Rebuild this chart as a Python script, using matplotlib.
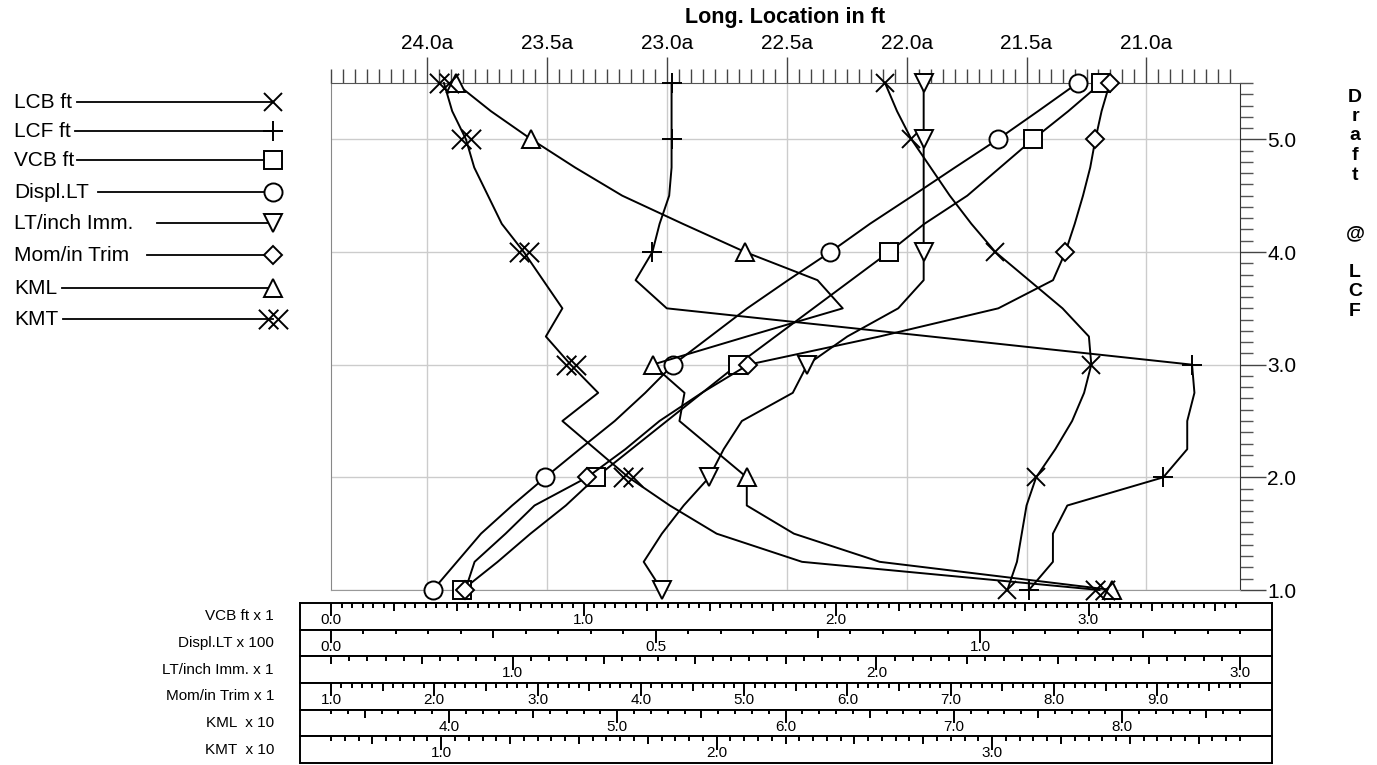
import numpy as np
import matplotlib
matplotlib.use('Agg')
import matplotlib.pyplot as plt
from matplotlib.path import Path

plt.rcParams['font.family'] = ['Liberation Sans', 'DejaVu Sans']

# draft @ LCF (ft); curve stations every 0.25 ft, symbols on whole feet and at 5.5
draft = [1.0, 1.25, 1.5, 1.75, 2.0, 2.25, 2.5, 2.75, 3.0, 3.25, 3.5, 3.75,
         4.0, 4.25, 4.5, 4.75, 5.0, 5.25, 5.5]
mark_at = [0, 4, 8, 12, 16, 18]

lcb = [21.58, 21.54, 21.52, 21.50, 21.46, 21.38, 21.31, 21.26, 21.23, 21.24,
       21.35, 21.49, 21.63, 21.73, 21.82, 21.90, 21.98, 22.04, 22.09]
lcf = [21.49, 21.39, 21.39, 21.33, 20.93, 20.83, 20.83, 20.80, 20.81, 21.90,
       23.00, 23.13, 23.06, 23.03, 22.99, 22.98, 22.98, 22.98, 22.98]
vcb = [0.52, 0.66, 0.79, 0.93, 1.05, 1.19, 1.33, 1.47, 1.61, 1.76,
       1.91, 2.06, 2.21, 2.35, 2.52, 2.65, 2.78, 2.92, 3.05]
displ = [0.157, 0.194, 0.231, 0.279, 0.330, 0.383, 0.437, 0.484, 0.527, 0.584,
         0.641, 0.704, 0.769, 0.830, 0.896, 0.961, 1.027, 1.089, 1.150]
lt_inch = [1.41, 1.36, 1.41, 1.47, 1.54, 1.58, 1.63, 1.77, 1.81, 1.92,
           2.06, 2.13, 2.13, 2.13, 2.13, 2.13, 2.13, 2.13, 2.13]
mom_trim = [2.30, 2.39, 2.69, 2.97, 3.48, 3.85, 4.18, 4.59, 5.04, 6.31,
            7.46, 7.99, 8.11, 8.20, 8.28, 8.35, 8.40, 8.46, 8.54]
kml = [7.94, 6.56, 6.05, 5.77, 5.77, 5.57, 5.37, 5.40, 5.21, 5.77,
       6.34, 6.19, 5.76, 5.39, 5.03, 4.75, 4.49, 4.25, 4.04]
kmt = [3.39, 2.31, 2.00, 1.83, 1.68, 1.56, 1.44, 1.57, 1.47, 1.38,
       1.44, 1.37, 1.30, 1.22, 1.17, 1.12, 1.09, 1.04, 1.01]

legend_names = ['LCB ft', 'LCF ft', 'VCB ft', 'Displ.LT', 'LT/inch Imm.',
                'Mom/in Trim', 'KML', 'KMT']

loc_ticks = [24.0, 23.5, 23.0, 22.5, 22.0, 21.5, 21.0]
draft_ticks = [1.0, 2.0, 3.0, 4.0, 5.0]

# auxiliary scales under the plot: range across the plot width and tick steps
scale_names = ['VCB ft x 1', 'Displ.LT x 100', 'LT/inch Imm. x 1',
               'Mom/in Trim x 1', 'KML  x 10', 'KMT  x 10']
scale_lo = [0.0, 0.0, 0.5, 1.0, 3.3, 0.6]
scale_hi = [3.6, 1.4, 3.0, 9.8, 8.7, 3.9]
label_step = [1.0, 0.5, 1.0, 1.0, 1.0, 1.0]
mid_step = [0.25, 0.25, 0.25, 0.5, 0.5, 0.25]
minor_step = [1 / 24, 0.05, 0.05, 0.1, 0.1, 0.05]

X_LEFT, X_RIGHT = 24.4, 20.61

W, H = 1377, 765
fig = plt.figure(figsize=(W / 100, H / 100), dpi=100)


def to_loc(vals, k):
    # map a quantity read on bottom scale k onto the long. location axis
    v = np.asarray(vals, dtype=float)
    return X_LEFT + (v - scale_lo[k]) / (scale_hi[k] - scale_lo[k]) * (X_RIGHT - X_LEFT)


kmt_marker = Path([(-1.5, -1), (0.5, 1), (-1.5, 1), (0.5, -1),
                   (-0.5, -1), (1.5, 1), (-0.5, 1), (1.5, -1)],
                  [Path.MOVETO, Path.LINETO] * 4)

series = [(lcb, None, 'x', 13.5), (lcf, None, '+', 14.5), (vcb, 0, 's', 13),
          (displ, 1, 'o', 13), (lt_inch, 2, 'v', 13.5), (mom_trim, 3, 'D', 9.5),
          (kml, 4, '^', 13.5), (kmt, 5, kmt_marker, 21)]

# legend on the left
lax = fig.add_axes([0, 0, 1, 1])
lax.set_xlim(0, W)
lax.set_ylim(H, 0)
lax.axis('off')
leg_y = [102, 131, 160, 192, 223, 255, 288, 319]
leg_x0 = [77, 75, 77, 98, 157, 147, 62, 63]
for name, y, x0, (_, _, mk, ms) in zip(legend_names, leg_y, leg_x0, series):
    lax.text(14, y, name, va='center', ha='left', fontsize=15)
    lax.plot([x0, 273], [y, y], color='black', lw=1.3)
    lax.plot([273], [y], linestyle='none', marker=mk, ms=ms, mfc='white',
             mec='black', mew=1.4)

# main plot
ax = fig.add_axes([331 / W, 1 - 590 / H, 909 / W, 507 / H])
ax.set_xlim(X_LEFT, X_RIGHT)
ax.set_ylim(1.0, 5.5)
ax.set_axisbelow(True)

for vals, k, mk, ms in series:
    x = vals if k is None else to_loc(vals, k)
    ax.plot(x, draft, color='black', lw=1.4, marker=mk, ms=ms, mfc='white',
            mec='black', mew=1.4, markevery=mark_at, clip_on=False, zorder=3)

ax.xaxis.tick_top()
ax.set_xticks(loc_ticks)
ax.set_xticklabels([f'{t:.1f}a' for t in loc_ticks], fontsize=15)
ax.set_xticks(np.arange(20.65, 24.41, 0.05), minor=True)
ax.tick_params(axis='x', which='major', direction='out', length=18.5, width=1,
               color='#444444', pad=3)
ax.tick_params(axis='x', which='minor', direction='out', length=10, width=1,
               color='#444444')

ax.yaxis.tick_right()
ax.set_yticks(draft_ticks)
ax.set_yticklabels([f'{t:.1f}' for t in draft_ticks], fontsize=15)
ax.set_yticks(np.arange(1.0, 5.51, 0.1), minor=True)
ax.tick_params(axis='y', which='major', direction='out', length=18.5, width=1,
               color='#444444', pad=1)
ax.tick_params(axis='y', which='minor', direction='out', length=9.5, width=1,
               color='#555555')

ax.grid(True, which='major', color='#cccccc', lw=1)
ax.spines['top'].set_color('#555555')
ax.spines['right'].set_color('#333333')
ax.spines['left'].set_color('#888888')
ax.spines['bottom'].set_color('#999999')

fig.text(785.5 / W, 1 - 18 / H, 'Long. Location in ft', ha='center', va='center',
         fontsize=15.5, fontweight='bold')

for i, ch in enumerate('Draft  @ LCF'):
    fig.text(1355 / W, 1 - (97 + 19.5 * i) / H, ch, ha='center', va='center',
             fontsize=14, fontweight='bold')

# stacked bottom scales
row_h = 160 / 6
for k in range(6):
    top = 603 + k * row_h
    bx = fig.add_axes([300 / W, 1 - (top + row_h) / H, 972 / W, row_h / H])
    lo, hi = scale_lo[k], scale_hi[k]
    ppu = 909 / (hi - lo)
    bx.set_xlim(lo - 31 / ppu, hi + 32 / ppu)
    bx.set_ylim(0, 1)
    bx.set_xticks([])
    bx.set_yticks([])
    for s in bx.spines.values():
        s.set_linewidth(1.4)
    step = minor_step[k]
    n = np.arange(np.ceil(lo / step - 1e-6), np.floor(hi / step + 1e-6) + 1)
    for t in n * step:
        t = round(float(t), 6) + 0.0
        if abs(t / label_step[k] - round(t / label_step[k])) < 1e-6:
            bx.vlines(t, 0.5, 1, color='black', lw=1.4)
            bx.text(t, 0.36, f'{abs(t):.1f}', ha='center', va='center', fontsize=11)
        elif abs(t / mid_step[k] - round(t / mid_step[k])) < 1e-6:
            bx.vlines(t, 0.7, 1, color='black', lw=1.4)
        else:
            bx.vlines(t, 0.83, 1, color='black', lw=1.4)
    fig.text(274 / W, 1 - (top + row_h / 2) / H, scale_names[k], ha='right',
             va='center', fontsize=11)

fig.savefig('out.png', dpi=100)
